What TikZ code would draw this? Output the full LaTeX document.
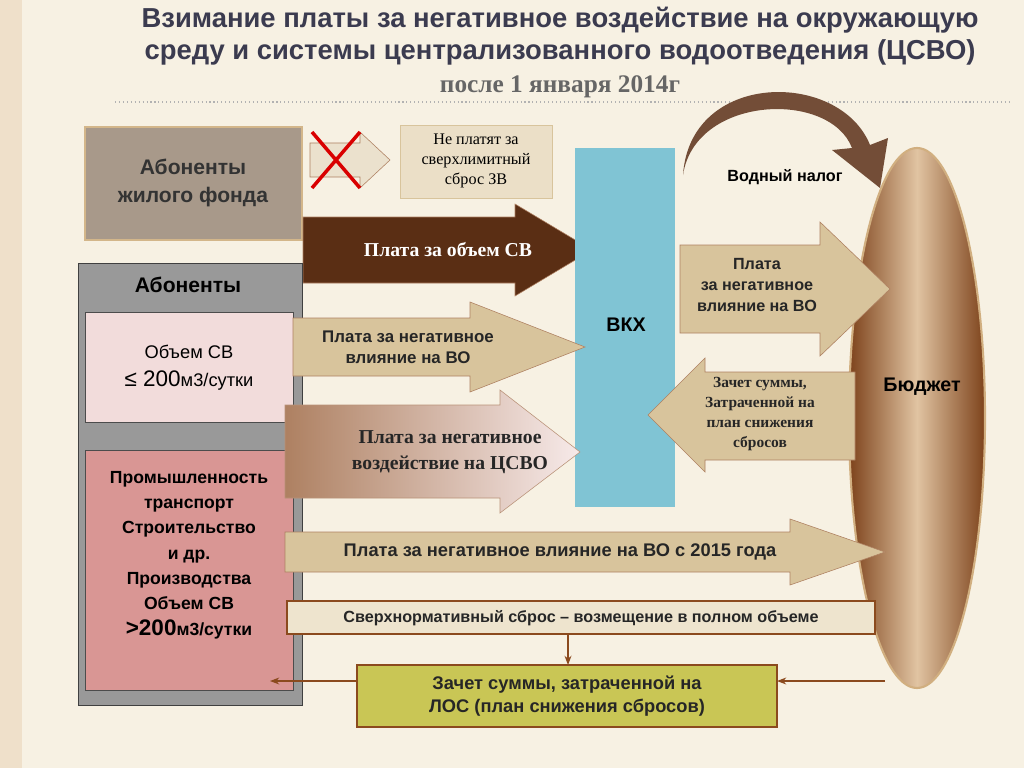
\documentclass[tikz,border=0pt]{standalone}
\usepackage{fontspec}
\setmainfont{Liberation Serif}
\setsansfont{Liberation Sans}
\usetikzlibrary{arrows.meta}
\definecolor{bgbeige}{HTML}{F7F1E3}
\definecolor{titlecol}{HTML}{3B3B4F}
\definecolor{darkbrown}{HTML}{5A2E14}
\definecolor{tanarrow}{HTML}{D8C49C}
\definecolor{vkxblue}{HTML}{80C4D4}
\definecolor{pinkbox}{HTML}{F2DCDB}
\definecolor{salmon}{HTML}{D99694}
\definecolor{olivebox}{HTML}{C9C655}
\definecolor{rimbrown}{HTML}{8B4A1E}
\newcommand{\rarrow}[7][tanarrow]{% fill, x1, x2, yc, half body, head x, half head
  \filldraw[draw=rimbrown!70,fill=#1] (#2,#4-#5) -- (#6,#4-#5) -- (#6,#4-#7) -- (#3,#4)
    -- (#6,#4+#7) -- (#6,#4+#5) -- (#2,#4+#5) -- cycle;}
\begin{document}
\begin{tikzpicture}[x=0.025cm,y=-0.025cm,
  sanslbl/.style={font=\sffamily\bfseries\fontsize{12}{15}\selectfont,align=center,text=black!85},
  seriflbl/.style={font=\bfseries\fontsize{12}{14}\selectfont,align=center,text=black!85}]

% Background
\fill[bgbeige] (0,0) rectangle (1024,768);
\fill[bgbeige!85!brown] (0,0) rectangle (22,768);

% Title
\node[font=\sffamily\bfseries\fontsize{19.5}{22}\selectfont,text=titlecol] (t1) at (560,20) {Взимание платы за негативное воздействие на окружающую};
\node[font=\sffamily\bfseries\fontsize{19.5}{22}\selectfont,text=titlecol] (t2) at (560,52) {среду и системы централизованного водоотведения (ЦСВО)};
\node[font=\bfseries\fontsize{18}{20}\selectfont,text=black!60] (t3) at (560,87) {после 1 января 2014г};
\draw[gray!60,dotted,thick] (115,102) -- (1010,102);

% Household subscribers
\filldraw[draw=tanarrow!80!brown,line width=2pt,fill=gray!70!brown!80] (85,127) rectangle (302,240);
\node[font=\sffamily\bfseries\fontsize{15}{20}\selectfont,align=center,text=black!80] (house) at (193,183) {Абоненты\\жилого фонда};
\rarrow[tanarrow!50]{310}{390}{160}{17}{360}{28}
\draw[red!85!black,line width=2.5pt] (312,132) -- (360,188) (312,188) -- (360,132);
\filldraw[draw=tanarrow,fill=bgbeige!60!tanarrow] (400,125) rectangle (552,198);
\node[font=\fontsize{11.5}{14}\selectfont,align=center] (nopay) at (476,161) {Не платят за\\сверхлимитный\\сброс ЗВ};
\rarrow[darkbrown]{303}{592}{250}{33}{515}{46}
\node[seriflbl,font=\bfseries\fontsize{14}{16}\selectfont,text=white] (vol) at (448,250) {Плата за объем СВ};

% VKH
\fill[vkxblue] (575,148) rectangle (675,507);
\node[font=\sffamily\bfseries\fontsize{14}{16}\selectfont] (vkh) at (626,325) {ВКХ};

% Subscribers
\filldraw[draw=gray!50!black,fill=gray!80] (78,263) rectangle (302,705);
\node[font=\sffamily\bfseries\fontsize{15}{18}\selectfont] (abon) at (188,285) {Абоненты};
\filldraw[draw=gray!60!black,fill=pinkbox] (85,312) rectangle (293,422);
\node[font=\sffamily\fontsize{13}{20}\selectfont,align=center] (small) at (189,368) {Объем СВ\\{\fontsize{16}{20}\selectfont ≤ 200}м3/сутки};
\filldraw[draw=gray!60!black,fill=salmon] (85,450) rectangle (293,690);
\node[font=\sffamily\bfseries\fontsize{12.5}{18}\selectfont,align=center] (big) at (189,555) {Промышленность\\транспорт\\Строительство\\и др.\\Производства\\Объем СВ\\{\fontsize{16}{22}\selectfont >200}м3/сутки};

% Arrows to VKH
\rarrow{293}{585}{347}{29}{470}{45}
\node[sanslbl] (neg1) at (408,347) {Плата  за негативное\\влияние на ВО};
\shade[left color=rimbrown!70,right color=pinkbox!60,draw=rimbrown!60]
  (285,405) -- (500,405) -- (500,390) -- (580,452) -- (500,513) -- (500,498) -- (285,498) -- cycle;
\node[seriflbl,font=\bfseries\fontsize{14}{18}\selectfont] (cso) at (450,452) {Плата за негативное\\воздействие на ЦСВО};

% Budget
\shade[left color=rimbrown!90!black,right color=rimbrown!90!black,middle color=bgbeige!60!brown,draw=tanarrow!70!brown,line width=1.5pt] (917,418) ellipse (68 and 270);
\node[font=\sffamily\bfseries\fontsize{14}{16}\selectfont] (budget) at (922,387) {Бюджет};

% Water tax
\fill[darkbrown!85] (683,175) .. controls (695,95) and (830,90) .. (852,148) -- (832,150) -- (880,188) -- (888,138) -- (870,145)
  .. controls (840,70) and (690,70) .. (683,175) -- cycle;
\node[font=\sffamily\bfseries\fontsize{11.5}{14}\selectfont] (tax) at (785,177) {Водный налог};

\rarrow{680}{890}{289}{44}{820}{67}
\node[sanslbl,font=\sffamily\fontsize{11.5}{15}\selectfont\bfseries] (neg2) at (757,285) {Плата\\за негативное\\влияние на ВО};
\filldraw[draw=rimbrown!70,fill=tanarrow] (855,372) -- (705,372) -- (705,358) -- (648,415) -- (705,472) -- (705,460) -- (855,460) -- cycle;
\node[seriflbl,font=\bfseries\fontsize{11}{14}\selectfont] (offset) at (760,414) {Зачет суммы,\\Затраченной на\\план снижения\\сбросов};

% Bottom
\rarrow{285}{885}{552}{20}{790}{33}
\node[sanslbl,font=\sffamily\bfseries\fontsize{13}{15}\selectfont] (neg3) at (560,552) {Плата  за негативное  влияние на ВО с 2015 года};
\filldraw[draw=rimbrown,line width=1.5pt,fill=bgbeige!70!tanarrow] (287,601) rectangle (875,634);
\node[sanslbl,font=\sffamily\bfseries\fontsize{11.5}{14}\selectfont] (over) at (581,618) {Сверхнормативный сброс –  возмещение в полном объеме};
\filldraw[draw=rimbrown,line width=1.5pt,fill=olivebox] (357,665) rectangle (777,727);
\node[sanslbl,font=\sffamily\bfseries\fontsize{13}{16}\selectfont] (los) at (567,696) {Зачет суммы, затраченной на\\ЛОС  (план снижения сбросов)};
\coordinate (lend) at (270,681);
\coordinate (rstart) at (885,681);
\draw[rimbrown,thick,-{Stealth}] (568,634) -- (568,665);
\draw[rimbrown,thick,-{Stealth}] (357,681) -- (lend);
\draw[rimbrown,thick,-{Stealth}] (rstart) -- (777,681);
\end{tikzpicture}
\end{document}
